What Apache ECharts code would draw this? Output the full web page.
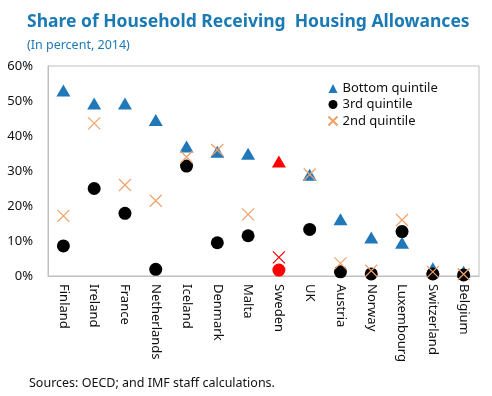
<!DOCTYPE html>
<html>
<head>
<meta charset="utf-8">
<script src="https://cdn.jsdelivr.net/npm/echarts@6/dist/echarts.min.js"></script>
<style>
    html, body {margin: 0; padding: 0; background: #fff;}
    #chart {width: 492px; height: 396px;}
</style>
</head>
<body>
<div id="chart"></div>
<script>
var countries = ['Finland', 'Ireland', 'France', 'Netherlands', 'Iceland', 'Denmark', 'Malta',
    'Sweden', 'UK', 'Austria', 'Norway', 'Luxembourg', 'Switzerland', 'Belgium'];
var bottomQuintile = [53, 49.3, 49.3, 44.6, 37, 35.5, 34.9, 32.7, 28.9, 16.2, 11, 9.5, 2.2, 1.2];
var thirdQuintile = [8.6, 25, 17.9, 1.9, 31.4, 9.5, 11.5, 1.7, 13.3, 1.2, 0.6, 12.7, 0.6, 0.3];
var secondQuintile = [17.2, 43.6, 26, 21.5, 34, 36, 17.6, 5.3, 29, 3.6, 1.5, 16, 1.2, 0.5];
var yTicks = [0, 10, 20, 30, 40, 50, 60];
var highlight = 'Sweden';

var font = 'Noto Sans';
var crossPath = 'path://M0,0L10,10M10,0L0,10';

// Sweden is drawn in red in every series
var withHighlight = function (values, style) {
    return values.map(function (v, i) {
        if (countries[i] === highlight) {
            return {value: v, itemStyle: style};
        }
        return v;
    });
};

var box = echarts.init(document.getElementById('chart'));
var option = {
    animation: false,
    textStyle: {fontFamily: font},
    title: [{
        text: 'Share of Household Receiving  Housing Allowances',
        left: 22,
        top: 8,
        textStyle: {fontSize: 17.5, fontWeight: 'bold', color: '#1b7ab4', fontFamily: font}
    }, {
        text: '(In percent, 2014)',
        left: 22,
        top: 34,
        textStyle: {fontSize: 12.5, fontWeight: 'normal', color: '#1b7ab4', fontFamily: font}
    }, {
        text: 'Sources: OECD; and IMF staff calculations.',
        left: 24,
        top: 372,
        textStyle: {fontSize: 12.5, fontWeight: 'normal', color: '#111', fontFamily: font}
    }],
    legend: {
        orient: 'vertical',
        left: 321,
        top: 77,
        itemGap: 3,
        itemWidth: 9,
        itemHeight: 9,
        textStyle: {fontSize: 13, color: '#111'},
        data: ['Bottom quintile', '3rd quintile', '2nd quintile']
    },
    grid: {
        left: 48,
        right: 13,
        top: 66,
        bottom: 120,
        show: true,
        borderColor: '#bfbfbf',
        borderWidth: 1
    },
    xAxis: {
        type: 'category',
        data: countries,
        axisLine: {lineStyle: {color: '#bfbfbf'}},
        axisTick: {inside: true, length: 5, lineStyle: {color: '#bfbfbf'}},
        axisLabel: {rotate: -90, interval: 0, fontSize: 13, color: '#111', margin: 8}
    },
    yAxis: {
        type: 'value',
        min: yTicks[0],
        max: yTicks[yTicks.length - 1],
        interval: 10,
        splitLine: {show: false},
        axisLine: {show: true, lineStyle: {color: '#bfbfbf'}},
        axisTick: {show: false},
        axisLabel: {formatter: '{value}%', fontSize: 13, color: '#111', margin: 15}
    },
    series: [{
        name: 'Bottom quintile',
        type: 'scatter',
        symbol: 'triangle',
        symbolSize: [14, 12],
        itemStyle: {color: '#2078b8', opacity: 1},
        data: withHighlight(bottomQuintile, {color: '#ff0000'})
    }, {
        name: '3rd quintile',
        type: 'scatter',
        symbol: 'circle',
        symbolSize: 13,
        itemStyle: {color: '#000', opacity: 1},
        data: withHighlight(thirdQuintile, {color: '#ff0000'})
    }, {
        name: '2nd quintile',
        type: 'scatter',
        symbol: crossPath,
        symbolSize: 12,
        itemStyle: {color: 'none', borderColor: '#f0a068', borderWidth: 1.2, opacity: 1},
        data: withHighlight(secondQuintile, {color: 'none', borderColor: '#ff0000', borderWidth: 1.2})
    }]
};
box.setOption(option);
</script>
</body>
</html>
